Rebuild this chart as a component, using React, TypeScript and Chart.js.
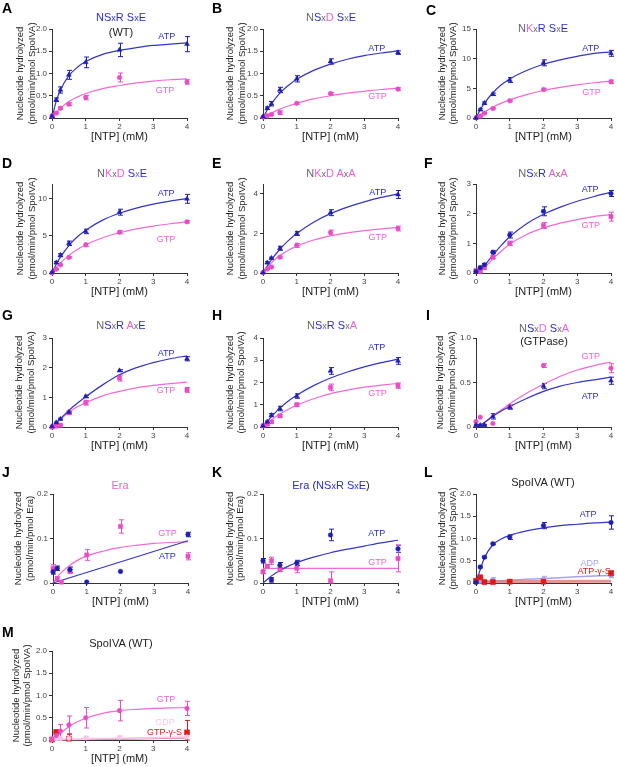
import { useEffect, useRef } from 'react'
import { Chart, registerables } from 'chart.js'

Chart.register(...registerables)

// ─── Shared axes ────────────────────────────────────────────────────────────

const DOSES = [0, 0.125, 0.25, 0.5, 1, 2, 4]           // [NTP] (mM)
const FIT_X = [0, 0.125, 0.25, 0.5, 0.75, 1, 1.5, 2, 2.5, 3, 3.5, 4]
const LINE_X = [0, 4]
const X_TICKS = [0, 1, 2, 3, 4]

// ─── Data ─────────────────────────────────────────────────────────────────────

const A_ATP = [0.04, 0.41, 0.63, 0.97, 1.25, 1.53, 1.66]
const A_ATP_ERR = [0.02, 0.04, 0.07, 0.1, 0.12, 0.15, 0.17]
const A_GTP = [0.05, 0.11, 0.22, 0.31, 0.46, 0.91, 0.81]
const A_GTP_ERR = [0.02, 0.02, 0.03, 0.03, 0.05, 0.1, 0.05]
const A_ATP_FIT = [0, 0.38, 0.63, 0.95, 1.14, 1.27, 1.43, 1.52, 1.58, 1.63, 1.66, 1.69]
const A_GTP_FIT = [0, 0.12, 0.22, 0.37, 0.47, 0.55, 0.66, 0.73, 0.79, 0.83, 0.86, 0.88]

const B_ATP = [0.03, 0.22, 0.32, 0.63, 0.88, 1.27, 1.47]
const B_ATP_ERR = [0.02, 0.03, 0.05, 0.06, 0.07, 0.06, 0.04]
const B_GTP = [0.02, 0.05, 0.08, 0.12, 0.33, 0.55, 0.65]
const B_GTP_ERR = [0.01, 0.01, 0.02, 0.04, 0.02, 0.02, 0.03]
const B_ATP_FIT = [0, 0.18, 0.32, 0.56, 0.73, 0.87, 1.07, 1.21, 1.32, 1.4, 1.46, 1.51]
const B_GTP_FIT = [0, 0.06, 0.11, 0.2, 0.27, 0.33, 0.43, 0.5, 0.56, 0.6, 0.64, 0.67]

const C_ATP = [0, 1.4, 2.5, 4.0, 6.4, 9.3, 10.9]
const C_ATP_ERR = [0.1, 0.15, 0.2, 0.2, 0.4, 0.5, 0.5]
const C_GTP = [0.05, 0.3, 0.8, 1.6, 2.9, 4.8, 6.1]
const C_GTP_ERR = [0.05, 0.1, 0.1, 0.1, 0.15, 0.2, 0.3]
const C_ATP_FIT = [0, 1.37, 2.5, 4.26, 5.6, 6.59, 8.0, 9.06, 9.8, 10.4, 10.9, 11.15]
const C_GTP_FIT = [0, 0.53, 1.01, 1.83, 2.5, 3.06, 3.94, 4.63, 5.17, 5.59, 5.94, 6.23]

const D_ATP = [0.1, 1.4, 2.4, 4.0, 5.6, 8.2, 10.0]
const D_ATP_ERR = [0.1, 0.15, 0.2, 0.3, 0.3, 0.4, 0.6]
const D_GTP = [0, 0.5, 1.1, 2.1, 3.8, 5.5, 6.9]
const D_GTP_ERR = [0.05, 0.1, 0.1, 0.1, 0.2, 0.2, 0.15]
const D_ATP_FIT = [0, 1.17, 2.14, 3.69, 4.88, 5.78, 7.13, 8.06, 8.75, 9.28, 9.7, 10.04]
const D_GTP_FIT = [0, 0.73, 1.36, 2.38, 3.17, 3.8, 4.75, 5.43, 5.94, 6.33, 6.64, 6.9]

const E_ATP = [0.02, 0.52, 0.75, 1.25, 2.0, 3.05, 3.97]
const E_ATP_ERR = [0.02, 0.05, 0.05, 0.1, 0.1, 0.15, 0.2]
const E_GTP = [0.02, 0.2, 0.3, 0.8, 1.4, 2.05, 2.25]
const E_GTP_ERR = [0.02, 0.03, 0.03, 0.05, 0.1, 0.12, 0.12]
const E_ATP_FIT = [0, 0.35, 0.67, 1.2, 1.64, 2.0, 2.57, 3.0, 3.33, 3.6, 3.82, 4.0]
const E_GTP_FIT = [0, 0.28, 0.52, 0.88, 1.15, 1.36, 1.67, 1.88, 2.03, 2.14, 2.23, 2.31]

const F_ATP = [0.05, 0.18, 0.28, 0.7, 1.28, 2.08, 2.68]
const F_ATP_ERR = [0.02, 0.03, 0.04, 0.05, 0.1, 0.15, 0.1]
const F_GTP = [0.08, 0.05, 0.18, 0.53, 1.0, 1.6, 1.9]
const F_GTP_ERR = [0.02, 0.03, 0.05, 0.05, 0.07, 0.1, 0.15]
const F_ATP_FIT = [0, 0.1, 0.25, 0.6, 0.93, 1.22, 1.66, 1.98, 2.22, 2.42, 2.58, 2.72]
const F_GTP_FIT = [0, 0.06, 0.18, 0.47, 0.74, 0.97, 1.3, 1.52, 1.68, 1.8, 1.9, 1.97]

const G_ATP = [0.02, 0.15, 0.27, 0.5, 1.03, 1.9, 2.3]
const G_ATP_ERR = [0.01, 0.02, 0.03, 0.03, 0.04, 0.03, 0.07]
const G_GTP = [0, 0.03, 0.06, 0.48, 0.82, 1.65, 1.25]
const G_GTP_ERR = [0.01, 0.01, 0.02, 0.05, 0.08, 0.1, 0.08]
const G_ATP_FIT = [0, 0.14, 0.28, 0.56, 0.8, 1.02, 1.42, 1.76, 2.0, 2.17, 2.3, 2.4]
const G_GTP_FIT = [0, 0.13, 0.26, 0.5, 0.68, 0.82, 1.05, 1.2, 1.32, 1.4, 1.46, 1.51]

const H_ATP = [0.05, 0.23, 0.53, 0.83, 1.39, 2.52, 2.97]
const H_ATP_ERR = [0.02, 0.04, 0.07, 0.1, 0.1, 0.15, 0.15]
const H_GTP = [0.05, 0.12, 0.23, 0.5, 1.0, 1.78, 1.86]
const H_GTP_ERR = [0.02, 0.03, 0.04, 0.05, 0.07, 0.15, 0.12]
const H_ATP_FIT = [0, 0.25, 0.47, 0.85, 1.17, 1.43, 1.86, 2.2, 2.47, 2.7, 2.89, 3.05]
const H_GTP_FIT = [0, 0.17, 0.32, 0.58, 0.8, 0.98, 1.27, 1.5, 1.66, 1.79, 1.88, 1.96]

const I_ATP = [0.02, 0.02, 0.02, 0.12, 0.22, 0.46, 0.52]
const I_ATP_ERR = [0.01, 0.01, 0.01, 0.03, 0.02, 0.03, 0.04]
const I_GTP = [0.06, 0.11, null, 0.04, 0.23, 0.69, 0.66]
const I_GTP_ERR = [0, 0, 0, 0, 0.02, 0.02, 0.05]
const I_ATP_FIT = [0, 0.02, 0.05, 0.12, 0.18, 0.23, 0.32, 0.4, 0.46, 0.5, 0.53, 0.56]
const I_GTP_FIT = [0, 0.02, 0.05, 0.13, 0.19, 0.26, 0.38, 0.48, 0.57, 0.64, 0.69, 0.73]

const J_ATP = [0.025, 0.033, null, 0.03, 0.002, 0.026, 0.109]
const J_ATP_ERR = [0.005, 0.005, 0, 0.006, 0, 0, 0.005]
const J_GTP = [0.033, 0.01, 0.002, 0.026, 0.063, 0.127, 0.06]
const J_GTP_ERR = [0.008, 0.004, 0, 0.004, 0.012, 0.015, 0.008]
const J_ATP_FIT = [0, 0.095]
const J_GTP_FIT = [0, 0.013, 0.024, 0.04, 0.052, 0.061, 0.072, 0.08, 0.085, 0.089, 0.091, 0.093]

const K_ATP = [0.05, null, 0.007, 0.04, 0.045, 0.108, 0.077]
const K_ATP_ERR = [0.005, 0, 0.005, 0.006, 0.006, 0.013, 0.008]
const K_GTP = [0.025, 0.038, 0.05, 0.03, 0.033, 0.005, 0.055]
const K_GTP_ERR = [0.004, 0.003, 0.008, 0.004, 0.01, 0.02, 0.03]
const K_ATP_FIT = [0, 0.008, 0.016, 0.028, 0.038, 0.046, 0.058, 0.068, 0.076, 0.083, 0.09, 0.096]
const K_GTP_FIT = [0.033, 0.033]

const L_ATP = [0.01, 0.36, 0.58, 0.88, 1.03, 1.29, 1.36]
const L_ATP_ERR = [0.01, 0.02, 0.02, 0.02, 0.05, 0.07, 0.15]
const L_ADP = [0.05, 0.04, 0.02, 0.07, 0.03, 0.08, 0.17]
const L_ADP_ERR = [0, 0, 0, 0.05, 0.02, 0.07, 0.05]
const L_ATPGS = [0.05, 0.13, 0.02, 0.02, 0.03, 0.03, 0.22]
const L_ATPGS_ERR = [0.03, 0.02, 0.01, 0, 0, 0, 0.05]
const L_ATP_FIT = [0, 0.3, 0.57, 0.86, 0.99, 1.07, 1.17, 1.24, 1.29, 1.32, 1.35, 1.37]
const L_ADP_FIT_X = [0, 1, 2, 3, 4]
const L_ADP_FIT = [0, 0.06, 0.1, 0.14, 0.17]
const L_ATPGS_FIT = [0.03, 0.04]

const M_GTP = [0.02, 0.1, 0.2, 0.34, 0.5, 0.66, 0.71]
const M_GTP_ERR = [0.04, 0.08, 0.15, 0.2, 0.23, 0.23, 0.16]
const M_GDP = [0.02, 0.03, 0.03, 0.04, 0.05, 0.06, 0.07]
const M_GDP_ERR = [0, 0, 0, 0, 0.03, 0.03, 0]
const M_GTPGS = [0.01, 0.18, null, 0.03, null, null, 0.17]
const M_GTPGS_ERR = [0.02, 0.04, 0, 0.1, 0, 0, 0.27]
const M_GTP_FIT = [0, 0.07, 0.15, 0.3, 0.41, 0.49, 0.6, 0.66, 0.69, 0.71, 0.72, 0.73]
const M_GDP_FIT = [0.01, 0.06]
const M_GTPGS_FIT = [0, 0.05]

// ─── Styling ─────────────────────────────────────────────────────────────────

const FONT = '"Liberation Sans", Arial, Helvetica, sans-serif'
const BLUE_PT = '#1e1eb0'
const BLUE_LN = '#3434c8'
const BLUE_TX = '#2b2bd0'
const PINK_PT = '#e84cc6'
const PINK_LN = '#f06ad6'
const PINK_TX = '#f060d2'
const LBLUE = '#a4a4ec'
const LPINK = '#f8c6ec'
const RED = '#e01818'
const RED_LN = '#c84848'
const RED_BAND = 'rgba(225, 110, 110, 0.75)'
const AXIS = '#333'
const GRAY = '#666'
const DARK = '#222'

const TITLE_COLORS: Record<string, string> = { b: BLUE_TX, p: PINK_TX, g: GRAY, k: DARK, ' ': DARK }

// Plot-area geometry: every panel has the same inner size
const PW = 135
const PH = 89
const PAD_L = 55
const PAD_T = 10
const CW = PAD_L + PW + 12
const CH = PAD_T + PH + 32
const Y_BOX = 40   // width given to the y scale (tick labels are clipped to it)
const X_BOX = 14   // height given to the x scale

type Marker = 'triangle' | 'circle' | 'rect'

interface Series {
  y: (number | null)[]
  err: number[]
  fitX: number[]
  fit: number[]
  pt: string
  ln: string
  marker: Marker
  r?: number
  lw?: number
}

interface Label { text: string; x: number; y: number; color: string }

interface Panel {
  letter: string
  left: number          // page x of y-axis
  top: number           // page y of plot top
  yMax: number
  yTicks: number[]
  dec: number
  unit: string
  yOff: [number, number]
  series: Series[]
  labels: Label[]
  title: [string, string][]   // [text, per-char colour codes]
  titleX: number
  titleY: number[]
  letterX: number
  letterY: number
}

const atp = (y: (number | null)[], err: number[], fit: number[], marker: Marker = 'triangle', fitX = FIT_X): Series =>
  ({ y, err, fit, fitX, pt: BLUE_PT, ln: BLUE_LN, marker, r: marker === 'triangle' ? 2.8 : 2.3 })
const gtp = (y: (number | null)[], err: number[], fit: number[], marker: Marker = 'circle', fitX = FIT_X): Series =>
  ({ y, err, fit, fitX, pt: PINK_PT, ln: PINK_LN, marker, r: marker === 'rect' ? 3 : 2.3 })

const lab = (text: string, x: number, y: number, color: string): Label => ({ text, x, y, color })

const COL = [52, 263, 476]
const ROW = [29, 184, 338, 494, 651]

const PANELS: Panel[] = [
  {
    letter: 'A', left: COL[0], top: ROW[0], yMax: 2, yTicks: [0, 0.5, 1, 1.5, 2], dec: 1, unit: 'SpoIVA', yOff: [32, 20],
    series: [atp(A_ATP, A_ATP_ERR, A_ATP_FIT), gtp(A_GTP, A_GTP_ERR, A_GTP_FIT)],
    labels: [lab('ATP', 3.4, 1.83, BLUE_TX), lab('GTP', 3.35, 0.62, PINK_TX)],
    title: [['NSxR SxE', 'bbbb bbb'], ['(WT)', 'kkkk']], titleX: 121, titleY: [17, 32], letterX: 2, letterY: 1,
  },
  {
    letter: 'B', left: COL[1], top: ROW[0], yMax: 2, yTicks: [0, 0.5, 1, 1.5, 2], dec: 1, unit: 'SpoIVA', yOff: [33, 21],
    series: [atp(B_ATP, B_ATP_ERR, B_ATP_FIT), gtp(B_GTP, B_GTP_ERR, B_GTP_FIT)],
    labels: [lab('ATP', 3.37, 1.56, BLUE_TX), lab('GTP', 3.39, 0.49, PINK_TX)],
    title: [['NSxD SxE', 'gbgp bgb']], titleX: 331, titleY: [17], letterX: 212, letterY: 1,
  },
  {
    letter: 'C', left: COL[2], top: ROW[0], yMax: 15, yTicks: [0, 5, 10, 15], dec: 0, unit: 'SpoIVA', yOff: [34, 23],
    series: [atp(C_ATP, C_ATP_ERR, C_ATP_FIT), gtp(C_GTP, C_GTP_ERR, C_GTP_FIT)],
    labels: [lab('ATP', 3.4, 11.7, BLUE_TX), lab('GTP', 3.42, 4.3, PINK_TX)],
    title: [['NKxR SxE', 'gpgb bgb']], titleX: 543, titleY: [28], letterX: 426, letterY: 3,
  },
  {
    letter: 'D', left: COL[0], top: ROW[1], yMax: 12, yTicks: [0, 5, 10], dec: 0, unit: 'SpoIVA', yOff: [32, 20],
    series: [atp(D_ATP, D_ATP_ERR, D_ATP_FIT), gtp(D_GTP, D_GTP_ERR, D_GTP_FIT)],
    labels: [lab('ATP', 3.38, 10.75, BLUE_TX), lab('GTP', 3.38, 4.5, PINK_TX)],
    title: [['NKxD SxE', 'gpgp bgb']], titleX: 122, titleY: [173], letterX: 2, letterY: 156,
  },
  {
    letter: 'E', left: COL[1], top: ROW[1], yMax: 4.5, yTicks: [0, 2, 4], dec: 0, unit: 'SpoIVA', yOff: [33, 21],
    series: [atp(E_ATP, E_ATP_ERR, E_ATP_FIT), gtp(E_GTP, E_GTP_ERR, E_GTP_FIT)],
    labels: [lab('ATP', 3.4, 4.08, BLUE_TX), lab('GTP', 3.4, 1.8, PINK_TX)],
    title: [['NKxD AxA', 'gpgp pgp']], titleX: 331, titleY: [173], letterX: 212, letterY: 156,
  },
  {
    letter: 'F', left: COL[2], top: ROW[1], yMax: 3, yTicks: [0, 1, 2, 3], dec: 0, unit: 'SpoIVA', yOff: [34, 23],
    series: [atp(F_ATP, F_ATP_ERR, F_ATP_FIT, 'circle'), gtp(F_GTP, F_GTP_ERR, F_GTP_FIT, 'rect')],
    labels: [lab('ATP', 3.38, 2.8, BLUE_TX), lab('GTP', 3.4, 1.6, PINK_TX)],
    title: [['NSxR AxA', 'gbgb pgp']], titleX: 543, titleY: [173], letterX: 424, letterY: 156,
  },
  {
    letter: 'G', left: COL[0], top: ROW[2], yMax: 3, yTicks: [0, 1, 2, 3], dec: 0, unit: 'SpoIVA', yOff: [33, 21],
    series: [atp(G_ATP, G_ATP_ERR, G_ATP_FIT), gtp(G_GTP, G_GTP_ERR, G_GTP_FIT, 'rect')],
    labels: [lab('ATP', 3.38, 2.49, BLUE_TX), lab('GTP', 3.38, 1.22, PINK_TX)],
    title: [['NSxR AxE', 'gbgb pgb']], titleX: 121, titleY: [325], letterX: 2, letterY: 308,
  },
  {
    letter: 'H', left: COL[1], top: ROW[2], yMax: 4, yTicks: [0, 1, 2, 3, 4], dec: 0, unit: 'SpoIVA', yOff: [33, 22],
    series: [atp(H_ATP, H_ATP_ERR, H_ATP_FIT), gtp(H_GTP, H_GTP_ERR, H_GTP_FIT, 'rect')],
    labels: [lab('ATP', 3.37, 3.57, BLUE_TX), lab('GTP', 3.39, 1.5, PINK_TX)],
    title: [['NSxR SxA', 'gbgb bgp']], titleX: 332, titleY: [325], letterX: 212, letterY: 308,
  },
  {
    letter: 'I', left: COL[2], top: ROW[2], yMax: 1, yTicks: [0, 0.5, 1], dec: 1, unit: 'SpoIVA', yOff: [36, 24],
    series: [atp(I_ATP, I_ATP_ERR, I_ATP_FIT), gtp(I_GTP, I_GTP_ERR, I_GTP_FIT)],
    labels: [lab('GTP', 3.4, 0.79, PINK_TX), lab('ATP', 3.38, 0.34, BLUE_TX)],
    title: [['NSxD SxA', 'gbgp bgp'], ['(GTPase)', 'kkkkkkkk']], titleX: 544, titleY: [328, 341], letterX: 426, letterY: 308,
  },
  {
    letter: 'J', left: COL[0] + 1, top: ROW[3], yMax: 0.2, yTicks: [0, 0.1, 0.2], dec: 1, unit: 'Era', yOff: [35, 23],
    series: [atp(J_ATP, J_ATP_ERR, J_ATP_FIT, 'circle', LINE_X), gtp(J_GTP, J_GTP_ERR, J_GTP_FIT, 'rect')],
    labels: [lab('GTP', 3.39, 0.111, PINK_TX), lab('ATP', 3.39, 0.06, BLUE_TX)],
    title: [['Era', 'ppp']], titleX: 120, titleY: [485], letterX: 2, letterY: 465,
  },
  {
    letter: 'K', left: COL[1], top: ROW[3], yMax: 0.2, yTicks: [0, 0.1, 0.2], dec: 1, unit: 'Era', yOff: [33, 23],
    series: [atp(K_ATP, K_ATP_ERR, K_ATP_FIT, 'circle'), gtp(K_GTP, K_GTP_ERR, K_GTP_FIT, 'rect', LINE_X)],
    labels: [lab('ATP', 3.37, 0.111, BLUE_TX), lab('GTP', 3.39, 0.047, PINK_TX)],
    title: [['Era (NSxR SxE)', 'bbb kbbbb bbbk']], titleX: 331, titleY: [485], letterX: 212, letterY: 465,
  },
  {
    letter: 'L', left: COL[2], top: ROW[3], yMax: 2, yTicks: [0, 0.5, 1, 1.5, 2], dec: 1, unit: 'SpoIVA', yOff: [34, 23],
    series: [
      atp(L_ATP, L_ATP_ERR, L_ATP_FIT, 'circle'),
      { y: L_ATPGS, err: L_ATPGS_ERR, fitX: LINE_X, fit: L_ATPGS_FIT, pt: RED, ln: RED_BAND, marker: 'rect', r: 3.6, lw: 3 },
      { y: L_ADP, err: L_ADP_ERR, fitX: L_ADP_FIT_X, fit: L_ADP_FIT, pt: LBLUE, ln: LBLUE, marker: 'circle', r: 2.3, lw: 1.5 },
    ],
    labels: [lab('ATP', 3.32, 1.54, BLUE_TX), lab('ADP', 3.37, 0.44, LBLUE), lab('ATP-γ-S', 3.5, 0.26, RED)],
    title: [['SpoIVA (WT)', 'kkkkkkkkkkk']], titleX: 543, titleY: [482], letterX: 424, letterY: 465,
  },
  {
    letter: 'M', left: COL[0], top: ROW[4], yMax: 2, yTicks: [0, 0.5, 1, 1.5, 2], dec: 1, unit: 'SpoIVA', yOff: [36, 25],
    series: [
      gtp(M_GTP, M_GTP_ERR, M_GTP_FIT),
      { y: M_GDP, err: M_GDP_ERR, fitX: LINE_X, fit: M_GDP_FIT, pt: LPINK, ln: LPINK, marker: 'circle', r: 2.3, lw: 2 },
      { y: M_GTPGS, err: M_GTPGS_ERR, fitX: LINE_X, fit: M_GTPGS_FIT, pt: RED, ln: RED_LN, marker: 'rect', r: 3.6, lw: 1.5 },
    ],
    labels: [lab('GTP', 3.38, 0.91, PINK_TX), lab('GDP', 3.35, 0.39, LPINK), lab('GTP-γ-S', 3.33, 0.17, RED)],
    title: [['SpoIVA (WT)', 'kkkkkkkkkkk']], titleX: 121, titleY: [643], letterX: 2, letterY: 625,
  },
]

// ─── Plugins ─────────────────────────────────────────────────────────────────

const errorBars = {
  id: 'errorBars',
  beforeDatasetsDraw(chart: any) {
    const { ctx, scales: { x, y } } = chart
    ctx.save()
    ctx.lineWidth = 1
    chart.data.datasets.forEach((ds: any) => {
      if (!ds.errColor) return
      ctx.strokeStyle = ds.errColor
      ds.data.forEach((p: any) => {
        if (!p.e) return
        const px = Math.round(x.getPixelForValue(p.x)) + 0.5
        const top = y.getPixelForValue(p.y + p.e)
        const bot = y.getPixelForValue(Math.max(0, p.y - p.e))
        ctx.beginPath()
        ctx.moveTo(px, top); ctx.lineTo(px, bot)
        ctx.moveTo(px - 2.5, top); ctx.lineTo(px + 2.5, top)
        ctx.moveTo(px - 2.5, bot); ctx.lineTo(px + 2.5, bot)
        ctx.stroke()
      })
    })
    ctx.restore()
  },
}

const annotations = {
  id: 'annotations',
  afterDraw(chart: any, _args: any, opts: any) {
    const { ctx, chartArea: a, scales: { x, y } } = chart
    ctx.save()
    ctx.textAlign = 'center'
    ctx.textBaseline = 'middle'

    ctx.font = `9px ${FONT}`
    opts.labels.forEach((l: Label) => {
      ctx.fillStyle = l.color
      ctx.fillText(l.text, x.getPixelForValue(l.x), y.getPixelForValue(l.y))
    })

    ctx.fillStyle = DARK
    ctx.font = `11px ${FONT}`
    ctx.fillText('[NTP] (mM)', (a.left + a.right) / 2, a.bottom + 19)

    ctx.font = `9.5px ${FONT}`
    const cy = (a.top + a.bottom) / 2
    const lines = ['Nucleotide hydrolyzed', `(pmol/min/pmol ${opts.unit})`]
    lines.forEach((t, i) => {
      ctx.save()
      ctx.translate(a.left - opts.yOff[i], cy)
      ctx.rotate(-Math.PI / 2)
      ctx.fillText(t, 0, 0)
      ctx.restore()
    })
    ctx.restore()
  },
}

// ─── Panel chart ─────────────────────────────────────────────────────────────

function buildDatasets(series: Series[]) {
  const out: any[] = []
  series.forEach((s) => {
    out.push({
      data: s.fitX.map((x, i) => ({ x, y: s.fit[i] })),
      showLine: true,
      borderColor: s.ln,
      borderWidth: s.lw ?? 1.2,
      pointRadius: 0,
      cubicInterpolationMode: 'monotone',
      clip: false,
      order: 2,
    })
    out.push({
      data: DOSES.map((x, i) => ({ x, y: s.y[i], e: s.err[i] })).filter((p) => p.y != null),
      pointStyle: s.marker,
      pointRadius: s.r ?? 2.3,
      backgroundColor: s.pt,
      borderColor: s.pt,
      borderWidth: 0.5,
      errColor: s.pt,
      clip: false,
      order: 1,
    })
  })
  return out
}

function PanelChart({ p }: { p: Panel }) {
  const canvasRef = useRef<HTMLCanvasElement>(null)

  useEffect(() => {
    const canvas = canvasRef.current
    if (!canvas) return
    const tickFont = { size: 8, family: FONT }
    const chart = new Chart(canvas, {
      type: 'scatter',
      data: { datasets: buildDatasets(p.series) },
      plugins: [errorBars, annotations],
      options: {
        animation: false,
        responsive: false,
        events: [],
        layout: { padding: { left: PAD_L - Y_BOX, top: PAD_T, right: CW - PAD_L - PW, bottom: CH - PAD_T - PH - X_BOX } },
        plugins: {
          legend: { display: false },
          tooltip: { enabled: false },
          annotations: { labels: p.labels, unit: p.unit, yOff: p.yOff },
        } as any,
        scales: {
          x: {
            type: 'linear',
            min: 0,
            max: 4,
            afterBuildTicks: (s: any) => { s.ticks = X_TICKS.map((value) => ({ value })) },
            afterFit: (s: any) => { s.height = X_BOX },
            grid: { drawOnChartArea: false, tickLength: 3, color: AXIS },
            border: { color: AXIS, width: 1 },
            ticks: { font: tickFont, color: '#444', padding: 1, maxRotation: 0, autoSkip: false },
          },
          y: {
            type: 'linear',
            min: 0,
            max: p.yMax,
            afterBuildTicks: (s: any) => { s.ticks = p.yTicks.map((value) => ({ value })) },
            afterFit: (s: any) => { s.width = Y_BOX },
            grid: { drawOnChartArea: false, tickLength: 3, color: AXIS },
            border: { color: AXIS, width: 1 },
            ticks: {
              font: tickFont,
              color: '#444',
              padding: 2,
              autoSkip: false,
              callback: (v: any) => (Number(v) === 0 ? '0' : Number(v).toFixed(p.dec)),
            },
          },
        },
      } as any,
    })
    return () => chart.destroy()
  }, [p])

  return (
    <canvas
      ref={canvasRef}
      width={CW}
      height={CH}
      style={{ position: 'absolute', left: p.left - PAD_L, top: p.top - PAD_T, width: CW, height: CH }}
    />
  )
}

function Title({ p }: { p: Panel }) {
  return (
    <>
      {p.title.map(([text, codes], li) => (
        <div
          key={li}
          style={{
            position: 'absolute', left: p.titleX, top: p.titleY[li], transform: 'translate(-50%, -50%)',
            whiteSpace: 'pre', fontSize: 11, lineHeight: 1, fontFamily: FONT,
          }}
        >
          {text.split('').map((ch, i) => (
            <span key={i} style={{ color: TITLE_COLORS[codes[i]] ?? DARK, fontSize: ch === 'x' ? 9 : 11 }}>{ch}</span>
          ))}
        </div>
      ))}
    </>
  )
}

export default function App() {
  return (
    <div style={{ position: 'absolute', left: 0, top: 0, width: 617, height: 767, overflow: 'hidden', background: '#fff', fontFamily: FONT }}>
      {PANELS.map((p) => (
        <div key={p.letter}>
          <PanelChart p={p} />
          <Title p={p} />
          <div style={{ position: 'absolute', left: p.letterX, top: p.letterY, fontSize: 14, fontWeight: 'bold', lineHeight: 1, color: '#000' }}>
            {p.letter}
          </div>
        </div>
      ))}
    </div>
  )
}
